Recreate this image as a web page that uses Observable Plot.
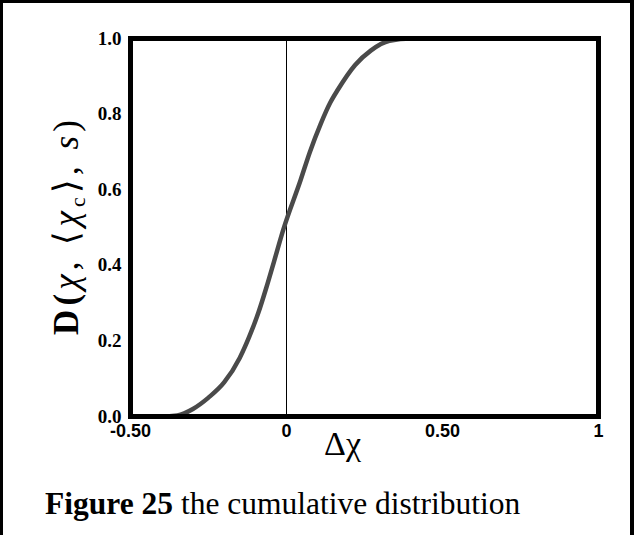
<!DOCTYPE html>
<html>
<head>
<meta charset="utf-8">
<script src="https://cdn.jsdelivr.net/npm/d3@7"></script>
<script src="https://cdn.jsdelivr.net/npm/@observablehq/plot@0.6"></script>
<style>
  html, body { margin: 0; padding: 0; background: #fff; }
  #wrap { position: relative; width: 634px; height: 535px; overflow: hidden; background: #fff; }
  #chart { position: absolute; left: 0; top: 0; }
  #border { position: absolute; left: 0; top: 0; width: 634px; height: 535px; box-sizing: border-box;
            border-top: 3px solid #000; border-left: 3px solid #000; border-right: 4px solid #000; pointer-events: none; }
  #caption { position: absolute; left: 45px; top: 488px; font-family: "Liberation Serif", "Times New Roman", serif;
             font-size: 31.5px; line-height: 32px; color: #000; white-space: nowrap; }
  #chart svg text.ytl { font-family: "Liberation Serif", "Times New Roman", serif !important; font-weight: bold !important; font-size: 19px !important; }
  #chart svg text.xtl { font-family: "Liberation Sans", Arial, sans-serif !important; font-weight: bold !important; font-size: 18px !important; }
</style>
</head>
<body>
<div id="wrap">
  <div id="chart"></div>
  <div id="caption"><b>Figure 25</b> the cumulative distribution</div>
  <div id="border"></div>
</div>
<script>
// Cumulative distribution curve
const xValues = [-0.5, -0.4, -0.35, -0.3, -0.25, -0.2, -0.15, -0.12, -0.09, -0.065, -0.04, -0.01, 0.045, 0.075, 0.11, 0.14, 0.165, 0.22, 0.27, 0.33, 0.4, 1.0];
const yValues = [0, 0, 0.003, 0.02, 0.05, 0.09, 0.155, 0.21, 0.275, 0.34, 0.41, 0.495, 0.625, 0.7, 0.775, 0.83, 0.865, 0.93, 0.968, 0.994, 1.0, 1.0];

// Axis ticks
const xTicks = [-0.5, 0, 0.5, 1];
const xTickLabels = ["-0.50", "0", "0.50", "1"];
const yTicks = [0, 0.2, 0.4, 0.6, 0.8, 1.0];
const yTickLabels = ["0.0", "0.2", "0.4", "0.6", "0.8", "1.0"];

const xLabel = "Δχ";
const yLabel = "D(χ, ⟨χc⟩, s)";

const data = xValues.map((x, i) => ({x, y: yValues[i]}));

const chart = Plot.plot({
  width: 634,
  height: 470,
  marginLeft: 130,
  marginRight: 36,
  marginTop: 38,
  marginBottom: 54,
  x: {domain: [-0.5, 1]},
  y: {domain: [0, 1]},
  style: {background: "transparent"},
  marks: [
    Plot.ruleX([0], {stroke: "#000", strokeWidth: 1}),
    Plot.line(data, {x: "x", y: "y", curve: "monotone-x", stroke: "#4a4a4a", strokeWidth: 4.5}),
    Plot.frame({stroke: "#000", strokeWidth: 5}),
    Plot.axisY({
      ticks: yTicks, tickSize: 0, tickPadding: 9,
      tickFormat: (d) => yTickLabels[yTicks.indexOf(d)],
      label: null, color: "#000"
    }),
    Plot.axisX({
      ticks: xTicks, tickSize: 0, tickPadding: 8,
      tickFormat: (d) => xTickLabels[xTicks.indexOf(d)],
      label: null, color: "#000"
    }),
    Plot.text([xLabel], {
      frameAnchor: "bottom", dx: -22, dy: 14, lineAnchor: "top",
      fontFamily: "Liberation Serif, Times New Roman, serif", fontSize: 34, fill: "#000"
    }),
    Plot.text([yLabel], {
      frameAnchor: "left", dx: -64, rotate: -90, textAnchor: "middle", lineAnchor: "middle",
      fontFamily: "Liberation Serif, Times New Roman, serif", fontSize: 35, fill: "#000"
    })
  ]
});

document.getElementById("chart").appendChild(chart);

// Fonts of the tick labels: serif on y, sans on x
chart.querySelectorAll("text").forEach(t => {
  const s = t.textContent.trim().replace("\u2212", "-");
  if (yTickLabels.includes(s)) t.classList.add("ytl");
  else if (xTickLabels.includes(s)) t.classList.add("xtl");
});

// Rich formatting for the rotated y label (italic χ, subscript c)
const svgNS = "http://www.w3.org/2000/svg";
chart.querySelectorAll("text").forEach(t => {
  if (t.textContent === yLabel) {
    while (t.firstChild) t.removeChild(t.firstChild);
    const parts = [
      {s: "D(", w: "bold"},
      {s: "χ", st: "italic"},
      {s: ", ⟨"},
      {s: "χ", st: "italic"},
      {s: "c", sub: true},
      {s: "⟩, "},
      {s: "s", st: "italic"},
      {s: ")"}
    ];
    parts.forEach(p => {
      const ts = document.createElementNS(svgNS, "tspan");
      ts.textContent = p.s;
      if (p.w) ts.setAttribute("font-weight", p.w);
      if (p.st) ts.setAttribute("font-style", p.st);
      if (p.sub) { ts.setAttribute("font-size", "22"); ts.setAttribute("dy", "7"); }
      if (p.s === "⟩, ") ts.setAttribute("dy", "-7");
      t.appendChild(ts);
    });
    t.setAttribute("textLength", "215");
    t.setAttribute("lengthAdjust", "spacing");
  }
});
</script>
</body>
</html>
